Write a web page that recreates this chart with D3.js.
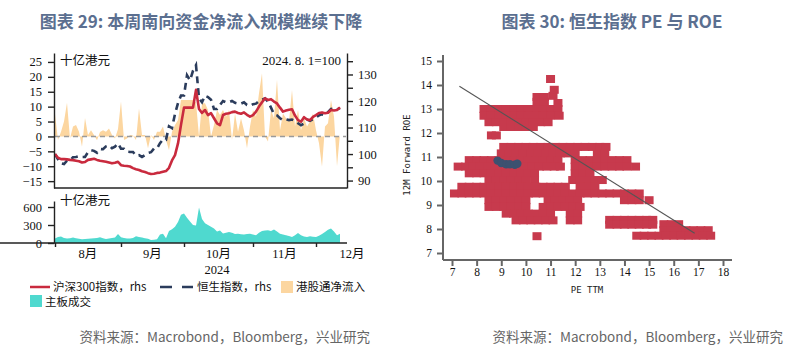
<!DOCTYPE html>
<html>
<head>
<meta charset="utf-8">
<script src="https://cdn.jsdelivr.net/npm/d3@7"></script>
<style>
body { margin: 0; background: #fff; }
svg { display: block; }
</style>
</head>
<body>
<svg id="chart" width="800" height="364"></svg>
<script>
/*
  left: southbound flows vs CSI300 / HSI, right: HSI PE vs ROE scatter
*/

// ---------- left chart data (weekdays, Aug 1 - Dec 12 2024) ----------
var tradeDates = [
	"08-01","08-02","08-05","08-06","08-07","08-08","08-09","08-12","08-13","08-14","08-15","08-16",
	"08-19","08-20","08-21","08-22","08-23","08-26","08-27","08-28","08-29","08-30",
	"09-02","09-03","09-04","09-05","09-06","09-09","09-10","09-11","09-12","09-13","09-16","09-17",
	"09-18","09-19","09-20","09-23","09-24","09-25","09-26","09-27","09-30",
	"10-01","10-02","10-03","10-04","10-07","10-08","10-09","10-10","10-11","10-14","10-15","10-16",
	"10-17","10-18","10-21","10-22","10-23","10-24","10-25","10-28","10-29","10-30","10-31",
	"11-01","11-04","11-05","11-06","11-07","11-08","11-11","11-12","11-13","11-14","11-15","11-18",
	"11-19","11-20","11-21","11-22","11-25","11-26","11-27","11-28","11-29",
	"12-02","12-03","12-04","12-05","12-06","12-09","12-10","12-11","12-12"
];

// 沪深300指数 (2024.8.1=100)
var csi300 = [
	100.0, 98.6, 98.1, 98.1, 98.0, 97.8, 97.7, 97.5, 97.3, 96.8,
	97.0, 97.8, 98.0, 98.2, 97.8, 97.5, 97.3, 97.1, 96.8, 96.5,
	96.7, 97.1, 95.8, 95.6, 95.5, 95.3, 94.7, 94.3, 94.0, 93.5,
	93.2, 92.8, 92.5, 92.6, 92.9, 93.0, 93.3, 93.6, 94.8, 97.6,
	99.6, 104.0, 111.0, 117.5, 117.5, 117.5, 117.5, 124.2, 117.0, 115.5,
	116.6, 114.7, 115.4, 113.5, 111.6, 110.9, 114.7, 115.2, 115.4, 115.8,
	116.0, 115.5, 115.2, 115.7, 114.8, 114.1, 114.7, 116.0, 117.9, 119.5,
	121.0, 120.4, 120.7, 119.8, 119.1, 117.5, 116.0, 116.4, 116.7, 116.9,
	114.5, 112.8, 112.2, 113.9, 113.0, 112.8, 114.0, 114.7, 115.5, 115.7,
	115.4, 115.6, 116.6, 116.4, 116.6, 117.6
];

// 恒生指数 (2024.8.1=100)
var hsi = [
	100.0, 98.0, 96.5, 96.2, 97.5, 97.6, 98.8, 98.9, 99.2, 98.9,
	98.9, 100.7, 101.5, 101.2, 100.5, 101.9, 101.8, 102.9, 103.3, 102.2,
	102.8, 104.0, 102.0, 102.0, 100.9, 100.8, 100.8, 99.4, 99.6, 98.9,
	99.6, 100.4, 100.7, 102.1, 102.1, 104.1, 105.5, 105.4, 110.5, 109.8,
	115.1, 119.2, 122.1, 122.1, 129.7, 127.8, 131.4, 133.5, 121.0, 119.5,
	122.0, 121.5, 120.5, 117.0, 117.0, 118.5, 120.0, 119.5, 119.5, 120.0,
	119.3, 119.0, 119.0, 119.5, 118.5, 118.2, 118.8, 119.0, 120.0, 120.5,
	121.0, 119.8, 117.5, 115.0, 114.6, 113.5, 112.8, 113.1, 112.8, 113.0,
	112.5, 111.6, 110.9, 111.5, 113.0, 112.5, 113.2, 113.8, 114.6, 115.0,
	114.6, 115.8, 117.0, 117.2, 116.8, 117.3
];

// 港股通净流入, 十亿港元
var southbound = [
	7.5, -1.2, 1.6, 5.0, 11.3, -0.7, 3.3, 3.8, 1.6, -3.5,
	6.2, 0.5, 2.1, 0.5, -1.3, 1.5, 2.1, 1.6, 2.7, 0.5,
	-0.7, 2.5, 11.7, -1.2, -0.7, 0.5, 0.3, -1.2, 9.4, 0.5,
	0.5, -4.0, 0.5, -1.2, 1.6, 1.6, 3.3, -1.2, -4.6, 1.6,
	3.8, 5.5, 12.2, 12.2, 12.2, 12.2, 12.2, 11.5, 0.0, 11.1,
	11.1, 8.9, 0.0, 3.8, 8.9, 7.2, 8.9, 6.6, 8.9, -1.2,
	7.7, 1.6, 6.1, 2.0, -4.0, 3.3, 8.9, 6.6, 14.5, 21.2,
	0.0, -1.7, 8.9, 6.1, 19.0, 2.1, 7.7, 6.1, 5.0, 15.6,
	3.3, 8.9, 2.1, 6.1, 3.3, 5.0, 7.7, 2.1, -2.3, -10.2,
	3.3, 4.4, 12.2, 6.6, -10.0, 1.0
];

// 主板成交, 十亿港元
var turnover = [
	75, 100, 110, 85, 75, 80, 90, 80, 70, 62,
	65, 70, 75, 80, 85, 95, 80, 67, 75, 85,
	90, 150, 95, 85, 75, 73, 85, 112, 100, 90,
	80, 70, 50, 55, 62, 140, 156, 80, 200, 230,
	270, 350, 470, 490, 420, 360, 300, 290, 590, 400,
	330, 300, 270, 240, 190, 210, 160, 170, 185, 170,
	150, 155, 145, 140, 150, 156, 140, 128, 170, 200,
	210, 212, 200, 223, 190, 156, 140, 128, 115, 101,
	130, 167, 128, 110, 101, 112, 105, 101, 120, 150,
	184, 220, 240, 190, 128, 156
];

var leftTicks = [-15, -10, -5, 0, 5, 10, 15, 20, 25];
var rightTicks = [90, 95, 100, 105, 110, 115, 120, 125, 130, 135];
var volTicks = [0, 300, 600];
var monthLabels = ["8月", "9月", "10月", "11月", "12月"];

// ---------- right chart data: PE TTM vs 12M forward ROE ----------
var scatterTop = [
	[8.3,13.0],[8.6,13.0],[8.9,13.0],[9.2,13.0],[9.5,13.0],[9.8,13.0],[10.1,13.0],[10.4,13.0],[10.7,13.0],[11.0,13.0],[11.3,13.0],
	[8.3,12.72],[8.6,12.72],[8.9,12.72],[9.2,12.72],[9.5,12.72],[9.8,12.72],[10.1,12.72],[10.4,12.72],[10.7,12.72],[11.0,12.72],[11.35,12.72],
	[8.5,12.45],[8.8,12.45],[9.1,12.45],[9.4,12.45],[9.7,12.45],[10.0,12.45],[10.3,12.45],[10.6,12.45],[10.9,12.45],
	[9.1,12.25],[9.4,12.25],[9.7,12.25],[10.0,12.25],[10.3,12.25],
	[10.45,13.3],[10.75,13.3],[10.45,13.5],[10.75,13.5],[11.1,13.55],[11.15,13.8],[11.3,13.25],[11.0,14.25],
	[8.6,11.9],[8.8,11.9]
];
var scatterUpper = [
	[9.1,11.42],[9.4,11.42],[9.7,11.42],[10.0,11.42],[10.3,11.42],[10.6,11.42],[10.9,11.42],[11.2,11.42],
	[11.5,11.42],[11.8,11.42],[12.1,11.42],[12.4,11.42],[12.7,11.42],[13.0,11.42],[13.25,11.42],
	[9.0,11.15],[9.3,11.15],[9.6,11.15],[9.9,11.15],[10.2,11.15],[10.5,11.15],[10.8,11.15],[11.1,11.15],
	[11.4,11.15],[11.7,11.15],[12.0,11.15],[12.9,11.15],[13.2,11.15]
];
var scatterMiddle = [
	[7.7,10.87],[8.0,10.87],[8.3,10.87],[8.6,10.87],[8.9,10.87],[9.2,10.87],[9.5,10.87],[9.8,10.87],[10.1,10.87],
	[10.4,10.87],[10.7,10.87],[11.0,10.87],[11.3,10.87],
	[12.0,10.87],[12.3,10.87],[12.6,10.87],[12.9,10.87],[13.2,10.87],[13.5,10.87],[13.8,10.87],[14.1,10.87],
	[7.25,10.6],[7.55,10.6],[7.85,10.6],[8.15,10.6],[8.45,10.6],[8.75,10.6],[9.05,10.6],[9.35,10.6],[9.65,10.6],
	[9.95,10.6],[10.25,10.6],[10.55,10.6],[10.85,10.6],[11.15,10.6],[11.4,10.6],
	[12.0,10.6],[12.3,10.6],[12.6,10.6],[12.9,10.6],[13.2,10.6],[13.5,10.6],[13.8,10.6],[14.1,10.6],[14.45,10.6],
	[7.7,10.32],[8.0,10.32],[8.3,10.32],[8.6,10.32],[8.9,10.32],[9.2,10.32],[9.5,10.32],[9.8,10.32],[10.1,10.32],[10.35,10.32],
	[12.0,10.32],[12.3,10.32],[12.6,10.32],
	[8.5,10.04],[8.8,10.04],[9.1,10.04],[9.4,10.04],[9.7,10.04],[10.0,10.04],[10.35,10.04],
	[11.9,10.04],[12.2,10.04],[12.5,10.04],[12.8,10.04],[13.1,10.04]
];
var scatterLower = [
	[7.4,9.76],[7.7,9.76],[8.0,9.76],[8.3,9.76],[8.6,9.76],[8.9,9.76],[9.2,9.76],[9.5,9.76],[9.8,9.76],[10.1,9.76],
	[10.4,9.76],[10.7,9.76],[11.0,9.76],[11.3,9.76],[11.6,9.76],[12.2,9.76],[12.5,9.76],[12.8,9.76],
	[7.1,9.48],[7.4,9.48],[7.7,9.48],[8.0,9.48],[8.3,9.48],[8.6,9.48],[8.9,9.48],[9.2,9.48],[9.5,9.48],[9.8,9.48],
	[10.1,9.48],[10.4,9.48],[10.7,9.48],[11.0,9.48],[11.3,9.48],[11.6,9.48],[11.9,9.48],[12.2,9.48],[12.5,9.48],
	[12.8,9.48],[13.1,9.48],[13.4,9.48],[13.7,9.48],[14.0,9.48],[14.3,9.48],[14.6,9.48],
	[8.5,9.2],[8.8,9.2],[9.1,9.2],[9.4,9.2],[9.7,9.2],[10.0,9.2],[10.9,9.2],[11.2,9.2],[11.5,9.2],[11.8,9.2],[12.1,9.2],
	[14.0,9.2],[14.3,9.2],[14.6,9.2],[15.0,9.2]
];
var scatterLobe = [
	[8.5,8.92],[8.8,8.92],[9.1,8.92],[9.4,8.92],[9.7,8.92],[10.0,8.92],[10.7,8.92],[11.0,8.92],[11.3,8.92],[11.6,8.92],[11.9,8.92],[12.2,8.92],
	[9.2,8.64],[9.5,8.64],[9.8,8.64],[10.1,8.64],[10.4,8.64],[10.7,8.64],[11.0,8.64],[11.8,8.64],[12.1,8.64],
	[9.6,8.36],[9.9,8.36],[10.2,8.36],[10.5,8.36],[10.8,8.36],[11.1,8.36],[11.8,8.36],[12.1,8.36],
	[10.45,7.7]
];
var scatterRight = [
	[13.4,8.38],[13.7,8.38],[14.0,8.38],[14.3,8.38],[14.6,8.38],[14.9,8.38],[15.15,8.38],
	[13.4,8.18],[13.7,8.18],[14.0,8.18],[14.3,8.18],[14.6,8.18],[14.9,8.18],[15.15,8.18],
	[15.6,8.2],[15.9,8.2],[16.2,8.2],
	[15.6,7.95],[15.9,7.95],[16.2,7.95],[16.5,7.95],[16.8,7.95],[17.1,7.95],[17.4,7.95],
	[14.5,7.72],[14.8,7.72],[15.1,7.72],[15.4,7.72],[15.7,7.72],[16.0,7.72],[16.3,7.72],[16.6,7.72],[16.9,7.72],[17.2,7.72],[17.5,7.72]
];
var hsiNow = [[8.85,10.85],[9.0,10.75],[9.2,10.7],[9.35,10.7],[9.55,10.68],[9.65,10.72]];
var fitLine = [[7.3,13.95],[16.85,7.82]];
var peTicks = [7, 8, 9, 10, 11, 12, 13, 14, 15, 16, 17, 18];
var roeTicks = [7, 8, 9, 10, 11, 12, 13, 14, 15];

// ---------- drawing ----------
var serif = "'Liberation Serif','Times New Roman',serif";
var cjk = "'Noto Sans CJK SC','Noto Sans',sans-serif";
var titleColor = "#5b6f90";
var red = "#c92a3e", navy = "#2b3c5c", orange = "#fcd6a0", teal = "#4fd9cf", dotRed = "#c73a4d";

var svg = d3.select("#chart");

function styleAxis(g, color, width, size) {
	g.selectAll(".domain").style("stroke", color).style("stroke-width", width);
	g.selectAll(".tick line").style("stroke", color).style("stroke-width", width);
	g.selectAll(".tick text").style("font-family", serif).style("font-size", size).style("fill", "#111");
}

// titles + footers
svg.append("text").attr("x", 201).attr("y", 28).attr("text-anchor", "middle")
	.style("font-family", cjk).style("font-weight", "bold").style("font-size", "17px").style("fill", titleColor)
	.text("图表 29: 本周南向资金净流入规模继续下降");
svg.append("text").attr("x", 612).attr("y", 28).attr("text-anchor", "middle")
	.style("font-family", cjk).style("font-weight", "bold").style("font-size", "17px").style("fill", titleColor)
	.text("图表 30: 恒生指数 PE 与 ROE");
[370, 783].forEach(function(xe){
	svg.append("text").attr("x", xe).attr("y", 342).attr("text-anchor", "end")
		.style("font-family", cjk).style("font-size", "13.5px").style("fill", "#666")
		.text("资料来源：Macrobond，Bloomberg，兴业研究");
});

// ----- left chart scales
var x = d3.scaleLinear().domain([0, 97]).range([55, 346]);
var yL = d3.scaleLinear().domain([-17.3, 28]).range([188, 53]);
var yR = d3.scaleLinear().domain([87.2, 138.1]).range([188, 53]);
var yB = d3.scaleLinear().domain([0, 700]).range([243, 201]);

// southbound area
svg.append("path").datum(southbound)
	.attr("d", d3.area().x(function(d, i){ return x(i); }).y0(yL(0)).y1(function(d){ return yL(d); }))
	.style("fill", orange);

svg.append("line").attr("x1", 55).attr("x2", 346).attr("y1", yL(0)).attr("y2", yL(0))
	.style("stroke", "#9a9a9a").style("stroke-width", 1.5).style("stroke-dasharray", "5,4");

var lineR = d3.line().x(function(d, i){ return x(i); }).y(function(d){ return yR(d); });
svg.append("path").datum(hsi).attr("d", lineR)
	.style("fill", "none").style("stroke", navy).style("stroke-width", 2.6).style("stroke-dasharray", "7,5");
svg.append("path").datum(csi300).attr("d", lineR)
	.style("fill", "none").style("stroke", red).style("stroke-width", 2.6).style("stroke-linejoin", "round");

// top panel axes
var gL = svg.append("g").attr("transform", "translate(54,0)")
	.call(d3.axisLeft(yL).tickValues(leftTicks).tickSize(6).tickPadding(6).tickSizeOuter(0));
styleAxis(gL, "#222", 1.4, "12.5px");
var gR = svg.append("g").attr("transform", "translate(347,0)")
	.call(d3.axisRight(yR).tickValues(rightTicks).tickSize(6).tickPadding(5).tickSizeOuter(0)
		.tickFormat(function(d){ return (d % 10 === 0 && d <= 130) ? d : ""; }));
styleAxis(gR, "#222", 1.4, "12.5px");
svg.append("line").attr("x1", 54).attr("x2", 347).attr("y1", 188).attr("y2", 188)
	.style("stroke", "#222").style("stroke-width", 1.4);

svg.append("text").attr("x", 60).attr("y", 65).style("font-family", cjk).style("font-size", "12.5px")
	.style("fill", "#111").text("十亿港元");
svg.append("text").attr("x", 341).attr("y", 65).attr("text-anchor", "end").style("font-family", serif)
	.style("font-size", "13px").style("fill", "#111").text("2024. 8. 1=100");

// bottom panel: turnover
svg.append("path").datum(turnover)
	.attr("d", d3.area().x(function(d, i){ return x(i); }).y0(yB(0)).y1(function(d){ return yB(d); }))
	.style("fill", teal);

var gB = svg.append("g").attr("transform", "translate(54,0)")
	.call(d3.axisLeft(yB).tickValues(volTicks).tickSize(6).tickPadding(6).tickSizeOuter(0));
styleAxis(gB, "#222", 1.4, "12.5px");
svg.append("text").attr("x", 60).attr("y", 205).style("font-family", cjk).style("font-size", "12.5px")
	.style("fill", "#111").text("十亿港元");

// month ticks from the date list
var monthStarts = [];
tradeDates.forEach(function(d, i){
	if (i === 0 || d.slice(0, 2) !== tradeDates[i - 1].slice(0, 2)) monthStarts.push(i);
});
var gX = svg.append("g").attr("transform", "translate(0,243)")
	.call(d3.axisBottom(x).tickValues(monthStarts).tickSize(4).tickFormat("").tickSizeOuter(0));
styleAxis(gX, "#222", 1.4, "12px");
gX.select(".domain").attr("d", "M-1,0H347");

monthLabels.forEach(function(m, k){
	var a = monthStarts[k];
	var b = k + 1 < monthStarts.length ? monthStarts[k + 1] : a + 24;
	svg.append("text").attr("x", x((a + b) / 2)).attr("y", 258).attr("text-anchor", "middle")
		.style("font-family", serif + ",'Noto Sans CJK SC'").style("font-size", "12.5px").style("fill", "#111")
		.text(m);
});
svg.append("text").attr("x", 217).attr("y", 274).attr("text-anchor", "middle")
	.style("font-family", serif).style("font-size", "12.5px").style("fill", "#111").text("2024");

// legend
var lg = svg.append("g").style("font-family", cjk).style("font-size", "11.5px").style("fill", "#111");
lg.append("line").attr("x1", 30).attr("x2", 50).attr("y1", 287).attr("y2", 287)
	.style("stroke", red).style("stroke-width", 2.5);
lg.append("text").attr("x", 53).attr("y", 291).text("沪深300指数，rhs");
lg.append("line").attr("x1", 160).attr("x2", 193).attr("y1", 287).attr("y2", 287)
	.style("stroke", navy).style("stroke-width", 2.5).style("stroke-dasharray", "12,10");
lg.append("text").attr("x", 197).attr("y", 291).text("恒生指数，rhs");
lg.append("rect").attr("x", 281).attr("y", 281).attr("width", 12).attr("height", 12).style("fill", orange);
lg.append("text").attr("x", 296).attr("y", 291).text("港股通净流入");
lg.append("rect").attr("x", 30).attr("y", 295).attr("width", 12).attr("height", 12).style("fill", teal);
lg.append("text").attr("x", 45).attr("y", 306).text("主板成交");

// ----- right chart: scatter
var xS = d3.scaleLinear().domain([7, 18]).range([452, 723]);
var yS = d3.scaleLinear().domain([7, 15]).range([253, 61]);

var allDots = scatterTop.concat(scatterUpper, scatterMiddle, scatterLower, scatterLobe, scatterRight);
svg.append("g").selectAll("rect").data(allDots).enter().append("rect")
	.attr("x", function(d){ return xS(d[0]) - 4.5; })
	.attr("y", function(d){ return yS(d[1]) - 4; })
	.attr("width", 9).attr("height", 8)
	.style("fill", dotRed);

svg.append("g").selectAll("circle").data(hsiNow).enter().append("circle")
	.attr("cx", function(d){ return xS(d[0]); })
	.attr("cy", function(d){ return yS(d[1]); })
	.attr("r", 4.2)
	.style("fill", "#3d5170");

svg.append("path").datum(fitLine)
	.attr("d", d3.line().x(function(d){ return xS(d[0]); }).y(function(d){ return yS(d[1]); }))
	.style("stroke", "#555").style("stroke-width", 1.1).style("fill", "none");

var gYS = svg.append("g").attr("transform", "translate(443,0)")
	.call(d3.axisLeft(yS).tickValues(roeTicks).tickSize(6).tickPadding(5));
styleAxis(gYS, "#666", 2, "11.5px");
gYS.select(".domain").attr("d", "M0,55V260");
var gXS = svg.append("g").attr("transform", "translate(0,260)")
	.call(d3.axisBottom(xS).tickValues(peTicks).tickSize(6).tickPadding(2));
styleAxis(gXS, "#666", 2, "11.5px");
gXS.select(".domain").attr("d", "M443,0H732");

svg.append("text").attr("transform", "translate(410,155) rotate(-90)").attr("text-anchor", "middle")
	.style("font-family", "'DejaVu Sans Mono',monospace").style("font-size", "9px").style("fill", "#222")
	.text("12M Forward ROE");
svg.append("text").attr("x", 587).attr("y", 293).attr("text-anchor", "middle")
	.style("font-family", "'DejaVu Sans Mono',monospace").style("font-size", "9px").style("fill", "#222")
	.text("PE TTM");
</script>
</body>
</html>
